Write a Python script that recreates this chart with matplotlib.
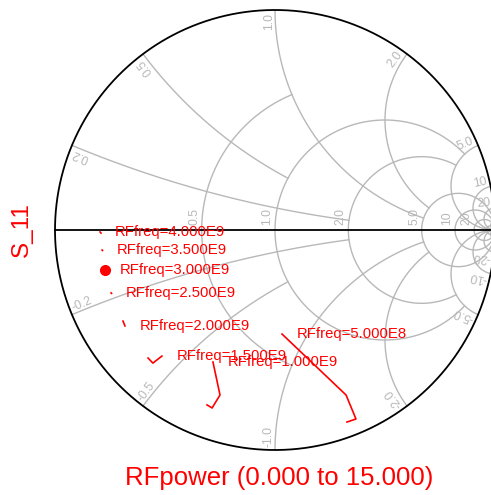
import numpy as np
import matplotlib.pyplot as plt

plt.rcParams['font.family'] = ['Liberation Sans', 'DejaVu Sans']

# S11 (reflection coefficient) traces vs RFpower, one per frequency
freq_labels = ['RFfreq=5.000E8', 'RFfreq=1.000E9', 'RFfreq=1.500E9', 'RFfreq=2.000E9',
               'RFfreq=2.500E9', 'RFfreq=3.000E9', 'RFfreq=3.500E9', 'RFfreq=4.000E9']
s11_re = [
    [0.032, 0.323, 0.368, 0.327],
    [-0.282, -0.250, -0.286, -0.309],
    [-0.514, -0.555, -0.577],
    [-0.682, -0.691],
    [-0.745, -0.743],
    [-0.773, -0.773],
    [-0.786, -0.784],
    [-0.795, -0.791],
]
s11_im = [
    [-0.473, -0.750, -0.859, -0.873],
    [-0.600, -0.750, -0.809, -0.795],
    [-0.573, -0.605, -0.582],
    [-0.436, -0.414],
    [-0.286, -0.288],
    [-0.182, -0.182],
    [-0.091, -0.093],
    [-0.009, -0.014],
]

# grid: resistance circles (r, |x| limit) and reactance arcs (x, r limit)
r_grid = [(0.5, 1), (1, 5), (2, 5), (5, np.inf), (10, np.inf), (20, np.inf), (50, np.inf)]
x_grid = [(0.2, 2), (0.5, 1), (1, 5), (2, 5), (5, np.inf), (10, np.inf), (20, np.inf), (50, np.inf)]
r_labels = [0.5, 1, 2, 5, 10, 20]
x_labels = [0.2, 0.5, 1, 2, 5, 10, 20]

grid_col = '#b8b8b8'


def gamma(z):
    return (z - 1) / (z + 1)


def fmt(v):
    return '%.1f' % v if abs(v) < 10 else '%d' % v


fig = plt.figure(figsize=(4.91, 4.95), dpi=100)
lim = 1.03
px = 220.0  # pixels per unit radius
ax = fig.add_axes([(275 - lim * px) / 491, (265 - lim * px) / 495,
                   2 * lim * px / 491, 2 * lim * px / 495])
ax.set_xlim(-lim, lim)
ax.set_ylim(-lim, lim)
ax.set_aspect('equal')
ax.axis('off')

for r, xmax in r_grid:
    u = np.linspace(-np.arctan(xmax), np.arctan(xmax), 800)
    g = gamma(r + 1j * np.tan(u))
    ax.plot(g.real, g.imag, color=grid_col, lw=1.0, zorder=1)

for x, rmax in x_grid:
    v = np.linspace(0, np.arctan(rmax), 600)
    for s in (1, -1):
        g = gamma(np.tan(v) + 1j * s * x)
        ax.plot(g.real, g.imag, color=grid_col, lw=1.0, zorder=1)

# outer circle and real axis
t = np.linspace(0, 2 * np.pi, 1000)
ax.plot(np.cos(t), np.sin(t), color='black', lw=1.3, zorder=2)
ax.plot([-1, 1], [0, 0], color='black', lw=1.3, zorder=2)

# resistance labels along the real axis
for r in r_labels:
    g = gamma(r)
    ax.text(g - 1.5 / px, 5 / px, fmt(r), rotation=90, rotation_mode='anchor',
            ha='left', va='bottom', color=grid_col, fontsize=8.8)

# reactance labels around the rim
for x in x_labels:
    for s in (1, -1):
        p = gamma(1j * s * x)
        ang_in = -2 * np.arctan(s * x)
        d = np.array([np.cos(ang_in), np.sin(ang_in)])
        pos = np.array([p.real, p.imag]) + d * 3 / px
        if s > 0:
            rot = np.degrees(ang_in) + 180
            ha = 'right'
        else:
            rot = np.degrees(ang_in)
            ha = 'left'
        ax.text(pos[0], pos[1], fmt(s * x), rotation=rot, rotation_mode='anchor',
                ha=ha, va='bottom', color=grid_col, fontsize=8.8)

# traces
for lab, re, im in zip(freq_labels, s11_re, s11_im):
    if lab == 'RFfreq=3.000E9':
        ax.plot(re[0], im[0], 'o', color='red', ms=7, zorder=3)
    else:
        ax.plot(re, im, color='red', lw=1.2, zorder=3)
    ax.annotate(lab, (re[0], im[0]), xytext=(10.5, 0), textcoords='offset points',
                color='red', fontsize=10.7, va='center', ha='left', zorder=4)

fig.text(279 / 491, 1 - 478 / 495, 'RFpower (0.000 to 15.000)', color='red',
         fontsize=18.5, ha='center', va='center')
fig.text(22 / 491, 1 - 230 / 495, 'S_11', color='red', fontsize=17.5,
         rotation=90, ha='center', va='center')

fig.savefig('out.png', dpi=100)
